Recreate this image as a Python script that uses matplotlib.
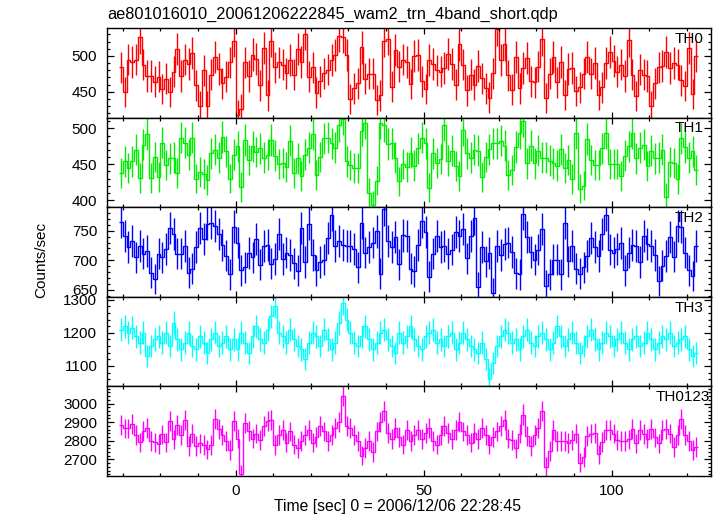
import numpy as np
import matplotlib
matplotlib.use('Agg')
import matplotlib.pyplot as plt
from matplotlib.ticker import MultipleLocator

plt.rcParams['font.family'] = ['Liberation Sans', 'DejaVu Sans']

# 時間ビン (1秒ビン, -31 s から 123 s)
t_start = -31
t_end = 123

# 各バンドのカウントレート (counts/sec)
th0 = [484, 450, 495, 492, 495, 526, 488, 472, 472, 464, 471, 454, 468, 450, 478, 510,
       472, 495, 489, 504, 459, 430, 480, 430, 474, 498, 482, 462, 471, 491, 521, 418,
       426, 491, 472, 502, 496, 459, 511, 445, 521, 484, 491, 488, 476, 494, 474, 510,
       492, 531, 471, 484, 449, 465, 476, 481, 494, 501, 528, 527, 501, 440, 455, 462,
       512, 468, 475, 475, 438, 445, 521, 524, 457, 508, 485, 495, 492,
       461, 500, 501, 465, 454, 494, 489, 480, 478, 483, 503, 489, 460, 516, 488, 452,
       474, 460, 486, 469, 455, 442, 476, 537, 494, 516, 473, 453, 499, 455, 483, 497,
       465, 463, 485, 523, 441, 475, 498, 463, 492, 446, 482, 483, 451, 456, 475, 499,
       475, 490, 446, 456, 490, 506, 493, 478, 488, 472, 522, 474, 444, 481, 474, 472,
       430, 462, 484, 486, 505, 483, 490, 488, 466, 458, 511, 447, 500]

th1 = [438, 454, 445, 454, 470, 431, 477, 492, 431, 460, 432, 480, 449, 458, 459, 438,
       487, 480, 463, 487, 430, 439, 436, 428, 465, 470, 459, 488, 468, 430, 463, 475,
       418, 484, 456, 475, 467, 472, 459, 463, 484, 462, 450, 452, 446, 483, 438, 458,
       434, 463, 473, 492, 435, 460, 486, 487, 479, 473, 504, 513, 454, 449, 445, 445,
       497, 508, 410, 393, 427, 508, 504, 478, 479, 459, 426, 450, 446,
       466, 448, 472, 487, 479, 417, 465, 452, 457, 505, 455, 469, 447, 434, 498, 465,
       459, 470, 469, 432, 460, 471, 479, 479, 483, 476, 435, 442, 474, 493, 510, 451,
       476, 451, 469, 459, 459, 455, 451, 448, 471, 445, 456, 429, 493, 416, 420, 485,
       456, 449, 449, 472, 494, 450, 450, 450, 433, 462, 475, 494, 458, 473, 477, 447,
       469, 458, 459, 470, 404, 453, 452, 429, 486, 474, 459, 468, 442]

th2 = [765, 741, 722, 732, 705, 724, 711, 716, 679, 668, 711, 705, 719, 755, 744, 711,
       711, 724, 679, 686, 723, 755, 736, 762, 763, 758, 744, 726, 708, 676, 757, 730,
       683, 688, 712, 705, 736, 692, 724, 726, 694, 702, 745, 702, 713, 709, 695, 682,
       755, 697, 762, 709, 683, 697, 701, 738, 777, 724, 733, 726, 724, 724, 719, 688,
       764, 713, 723, 730, 749, 677, 787, 732, 723, 740, 693, 742, 741,
       686, 681, 726, 766, 748, 672, 711, 741, 723, 724, 711, 718, 748, 741, 753, 703,
       741, 771, 655, 723, 698, 712, 644, 724, 709, 727, 730, 714, 678, 676, 779, 739,
       714, 701, 718, 753, 657, 676, 701, 701, 676, 764, 698, 724, 686, 677, 688, 707,
       737, 723, 707, 744, 777, 718, 713, 719, 729, 683, 713, 726, 724, 697, 741, 727,
       724, 709, 665, 691, 707, 739, 706, 758, 757, 713, 683, 673, 724]

th3 = [1210, 1220, 1200, 1215, 1190, 1170, 1200, 1130, 1160, 1180,
       1190, 1170, 1200, 1160, 1230, 1180, 1150, 1170, 1200, 1160,
       1150, 1190, 1170, 1140, 1180, 1200, 1160, 1170, 1190, 1150,
       1180, 1150, 1200, 1170, 1140, 1190, 1220, 1180, 1170, 1210,
       1250, 1280, 1200, 1190, 1170, 1210, 1180, 1160, 1150, 1120,
       1170, 1200, 1190, 1160, 1210, 1180, 1150, 1170, 1230, 1290,
       1240, 1200, 1170, 1160, 1190, 1220, 1180, 1150, 1170, 1200,
       1210, 1180, 1160, 1140, 1200, 1170, 1190, 1220, 1180, 1160,
       1150, 1190, 1200, 1210, 1170, 1180, 1160, 1190, 1200, 1150,
       1170, 1200, 1180, 1160, 1150, 1140, 1170, 1120, 1060, 1110,
       1160, 1190, 1210, 1200, 1170, 1180, 1150, 1190, 1210, 1170,
       1160, 1190, 1200, 1180, 1150, 1170, 1220, 1190, 1160, 1180,
       1200, 1170, 1140, 1160, 1190, 1210, 1180, 1150, 1170, 1200,
       1190, 1160, 1180, 1200, 1170, 1150, 1180, 1190, 1160, 1170,
       1200, 1180, 1150, 1170, 1190, 1180, 1200, 1160, 1170, 1180,
       1190, 1150, 1130, 1140]

th0123 = [2884, 2866, 2866, 2889, 2830, 2791, 2853, 2871, 2798, 2791,
          2782, 2834, 2791, 2907, 2807, 2887, 2830, 2914, 2771, 2839,
          2773, 2786, 2777, 2754, 2777, 2919, 2861, 2830, 2798, 2750,
          2907, 2812, 2620, 2898, 2853, 2812, 2839, 2804, 2880, 2907,
          2910, 2777,
          2830, 2860, 2790, 2850, 2780, 2760, 2800, 2830, 2860, 2790,
          2820, 2880, 2850, 2800, 2830, 2870, 2900, 3040, 2880, 2870,
          2830, 2800, 2720, 2760, 2800, 2740, 2850, 2900, 2960, 2840,
          2810, 2870, 2820, 2780, 2860, 2800, 2830, 2860, 2810, 2840,
          2870, 2800, 2780, 2830, 2880, 2840, 2810, 2860, 2900, 2850,
          2830, 2790, 2840, 2810, 2870, 2830, 2780, 2820, 2850, 2880,
          2910, 2812, 2804, 2759, 2839, 2941, 2825, 2773, 2830, 2871,
          2960, 2661, 2745, 2857, 2798, 2798, 2798, 2789, 2804, 2839,
          2682, 2714, 2825, 2839, 2843, 2727, 2795, 2857, 2857, 2839,
          2804, 2800, 2800, 2807, 2861, 2786, 2857, 2836, 2812, 2861,
          2818, 2786, 2857, 2861, 2839, 2768, 2830, 2919, 2830, 2798,
          2750, 2768]

labels = ['TH0', 'TH1', 'TH2', 'TH3', 'TH0123']
colors = ['#ff0000', '#00ee00', '#0000ff', '#00ffff', '#ff00ff']
ylims = [(414, 539), (390, 515), (638, 790), (1038, 1309), (2611, 3092)]
major_steps = [50, 50, 50, 100, 100]
minor_steps = [10, 10, 10, 20, 20]
series = [th0, th1, th2, th3, th0123]

edges = np.arange(t_start, t_end + 1)
centers = edges[:-1] + 0.5

fig = plt.figure(figsize=(7.17, 5.16), dpi=100)

left = 107 / 717
width = 604 / 717
panel_h = 89.6 / 516
top = 1 - 28 / 516

axes = []
for i in range(5):
    ax = fig.add_axes([left, top - (i + 1) * panel_h, width, panel_h])
    vals = np.array(series[i], dtype=float)
    c = colors[i]
    ax.stairs(vals, edges, baseline=None, color=c, lw=1.0)
    ax.errorbar(centers, vals, yerr=np.sqrt(vals), fmt='none', ecolor=c,
                elinewidth=1.0, capsize=0)
    ax.set_xlim(-34.2, 126.4)
    ax.set_ylim(*ylims[i])
    ax.xaxis.set_major_locator(MultipleLocator(50))
    ax.xaxis.set_minor_locator(MultipleLocator(10))
    ax.yaxis.set_major_locator(MultipleLocator(major_steps[i]))
    ax.yaxis.set_minor_locator(MultipleLocator(minor_steps[i]))
    ax.tick_params(which='both', direction='in', top=True, right=True,
                   labelsize=11, width=0.9)
    ax.tick_params(axis='x', which='major', length=4.5, pad=6)
    ax.tick_params(axis='y', which='major', length=5, pad=7)
    ax.tick_params(which='minor', length=2.5)
    for s in ax.spines.values():
        s.set_linewidth(1.0)
    if i < 4:
        ax.tick_params(axis='x', labelbottom=False)
    x_lab = 0.998 if i == 4 else 0.988
    ax.text(x_lab, 0.88, labels[i], transform=ax.transAxes, ha='right',
            va='center', fontsize=11)
    axes.append(ax)

fig.text(left, 1 - 14 / 516, 'ae801016010_20061206222845_wam2_trn_4band_short.qdp',
         ha='left', va='center', fontsize=11.8)
fig.text(41 / 717, 1 - 260 / 516, 'Counts/sec', rotation=90, ha='center',
         va='center', fontsize=11)
fig.text(398 / 717, 1 - 507 / 516, 'Time [sec] 0 = 2006/12/06 22:28:45',
         ha='center', va='center', fontsize=11.3)

fig.savefig('out.png', dpi=100)
